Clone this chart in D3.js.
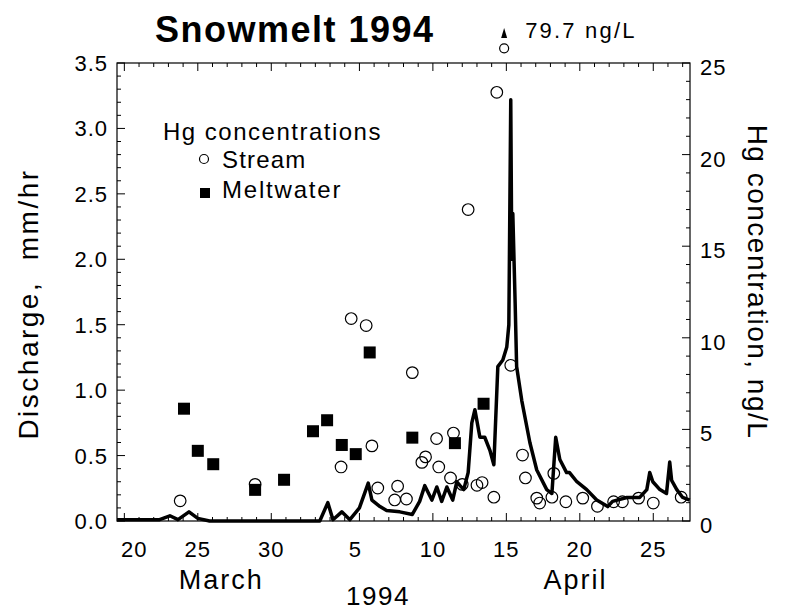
<!DOCTYPE html>
<html>
<head>
<meta charset="utf-8">
<script src="https://cdn.jsdelivr.net/npm/d3@7"></script>
<style>
  html, body { margin: 0; padding: 0; background: #fff; }
  svg { display: block; font-family: "Liberation Sans", Arial, Helvetica, sans-serif; }
</style>
</head>
<body>
<svg id="chart" width="787" height="612"></svg>
<script>
// ---- DATA (x values are day numbers counted from 1 March 1994; April 1 = 32) ----
const dischargeDay = [19.5, 22.4, 23.1, 23.65, 24.4, 25.0, 25.8, 33.3, 33.85, 34.2, 34.8, 35.35, 36.0, 36.6, 36.85, 37.4, 37.85, 38.75, 39.6, 40.1, 40.45, 40.93, 41.27, 41.6, 41.95, 42.35, 42.63, 42.85, 43.1, 43.4, 43.65, 43.86, 44.2, 44.53, 44.88, 45.15, 45.42, 45.76, 46.03, 46.17, 46.3, 46.37, 46.44, 46.6, 46.7, 47.05, 47.6, 48.07, 48.75, 49.1, 49.36, 49.64, 50.1, 50.3, 50.8, 51.47, 52.15, 52.9, 53.23, 54.2, 55.08, 55.56, 55.76, 55.97, 56.45, 56.9, 57.12, 57.25, 57.6, 58.0, 58.48];
const dischargeVal = [0.01, 0.01, 0.04, 0.01, 0.07, 0.02, 0.0, 0.0, 0.14, 0.01, 0.07, 0.01, 0.1, 0.29, 0.16, 0.11, 0.08, 0.07, 0.05, 0.15, 0.27, 0.16, 0.26, 0.15, 0.26, 0.16, 0.3, 0.27, 0.24, 0.37, 0.75, 0.85, 0.64, 0.64, 0.54, 0.43, 1.18, 1.23, 1.33, 1.5, 3.22, 2.0, 2.35, 1.66, 1.18, 0.92, 0.6, 0.39, 0.24, 0.21, 0.64, 0.47, 0.37, 0.37, 0.3, 0.24, 0.16, 0.11, 0.15, 0.18, 0.18, 0.24, 0.37, 0.3, 0.24, 0.21, 0.45, 0.31, 0.24, 0.18, 0.16];

const streamDay = [23.8, 28.9, 34.75, 35.44, 36.46, 36.85, 37.25, 38.4, 38.6, 39.2, 39.6, 40.25, 40.5, 41.25, 41.4, 42.2, 42.4, 43.0, 43.4, 44.0, 44.35, 45.15, 45.35, 45.85, 46.3, 47.1, 47.3, 48.07, 48.27, 49.1, 49.23, 50.05, 51.2, 52.2, 53.3, 53.9, 55.0, 56.0, 57.9];
const streamHg  = [1.1, 2.0, 2.95, 11.05, 10.67, 4.1, 1.8, 1.15, 1.9, 1.2, 8.1, 3.2, 3.5, 4.5, 2.95, 2.35, 4.8, 2.0, 17.0, 1.95, 2.1, 1.3, 23.4, 79.7, 8.5, 3.6, 2.35, 1.25, 0.98, 1.3, 2.6, 1.05, 1.25, 0.8, 1.05, 1.05, 1.25, 0.98, 1.3];

const meltDay = [24.06, 25.0, 26.05, 28.9, 30.87, 32.84, 33.8, 34.8, 35.75, 36.7, 39.6, 42.5, 44.45];
const meltHg  = [6.13, 3.83, 3.1, 1.7, 2.25, 4.9, 5.5, 4.15, 3.65, 9.2, 4.55, 4.25, 6.4];

const xTickDays   = [20, 25, 30, 36, 41, 46, 51, 56];       // 20,25,30 March; 5,10,15,20,25 April
const xTickLabels = ["20", "25", "30", "5", "10", "15", "20", "25"];
const leftTicks   = [0, 0.5, 1, 1.5, 2, 2.5, 3, 3.5];
const leftLabels  = ["0.0", "0.5", "1.0", "1.5", "2.0", "2.5", "3.0", "3.5"];
const rightTicks  = [0, 5, 10, 15, 20, 25];
const rightLabels = ["0", "5", "10", "15", "20", "25"];
const monthLabels = ["March", "April"];
const monthCenters = [26.6, 50.7];

const titleText = "Snowmelt 1994";
const offscaleNote = "79.7 ng/L";
const offscaleShownAt = 25.8;   // off-scale values drawn just above the frame
const legendTitle = "Hg concentrations";
const legendItems = ["Stream", "Meltwater"];
const leftTitle = "Discharge,  mm/hr";
const rightTitle = "Hg concentration, ng/L";
const yearLabel = "1994";

// ---- LAYOUT ----
const svg = d3.select("#chart");
const L = 117, R = 690, T = 63, B = 521;

const x  = d3.scaleLinear().domain([19.5, 58.5]).range([L, R]);
const yL = d3.scaleLinear().domain([0, 3.5]).range([B, T]);
const yR = d3.scaleLinear().domain([0, 25]).range([B, T]);

const g = svg.append("g");

// frame
g.append("rect").attr("x", L).attr("y", T).attr("width", R - L).attr("height", B - T)
  .attr("fill", "none").attr("stroke", "#000").attr("stroke-width", 1.2);

// x ticks (bottom & top), every day, major every 5
const dayTicks = d3.range(20, 59);
const isMajorX = d => xTickDays.includes(d);
g.selectAll(".xtb").data(dayTicks).join("line")
  .attr("x1", d => x(d)).attr("x2", d => x(d))
  .attr("y1", B).attr("y2", d => B - (isMajorX(d) ? 8 : 4))
  .attr("stroke", "#000").attr("stroke-width", 1);
g.selectAll(".xtt").data(dayTicks).join("line")
  .attr("x1", d => x(d)).attr("x2", d => x(d))
  .attr("y1", T).attr("y2", d => T + (isMajorX(d) ? 8 : 4))
  .attr("stroke", "#000").attr("stroke-width", 1);

// left ticks
const lMinor = d3.range(0, 3.501, 0.1);
g.selectAll(".ylt").data(lMinor).join("line")
  .attr("x1", L).attr("x2", (d, i) => L + (i % 5 === 0 ? 8 : 4))
  .attr("y1", d => yL(d)).attr("y2", d => yL(d))
  .attr("stroke", "#000").attr("stroke-width", 1);
// right ticks
const rMinor = d3.range(0, 25.01, 1);
g.selectAll(".yrt").data(rMinor).join("line")
  .attr("x1", R).attr("x2", (d, i) => R - (i % 5 === 0 ? 8 : 4))
  .attr("y1", d => yR(d)).attr("y2", d => yR(d))
  .attr("stroke", "#000").attr("stroke-width", 1);

// tick labels
g.selectAll(".xl").data(xTickDays).join("text")
  .attr("x", (d, i) => x(d) + (i === 0 ? 10 : (i === 3 ? -4 : 0))).attr("y", 557)
  .attr("text-anchor", "middle").attr("font-size", 22).attr("letter-spacing", 1)
  .text((d, i) => xTickLabels[i]);
g.selectAll(".yll").data(leftTicks).join("text")
  .attr("x", 108).attr("y", d => yL(d) + 8)
  .attr("text-anchor", "end").attr("font-size", 22).attr("letter-spacing", 1)
  .text((d, i) => leftLabels[i]);
g.selectAll(".yrl").data(rightTicks).join("text")
  .attr("x", 700).attr("y", d => yR(d) + 12)
  .attr("text-anchor", "start").attr("font-size", 22).attr("letter-spacing", 1)
  .text((d, i) => rightLabels[i]);

// month & year labels
g.selectAll(".ml").data(monthCenters).join("text")
  .attr("x", d => x(d)).attr("y", 589)
  .attr("text-anchor", "middle").attr("font-size", 27).attr("letter-spacing", 2)
  .text((d, i) => monthLabels[i]);
g.append("text").attr("x", 378).attr("y", 605).attr("text-anchor", "middle")
  .attr("font-size", 26).attr("letter-spacing", 1.5).text(yearLabel);

// axis titles
g.append("text").attr("transform", "translate(38,304) rotate(-90)")
  .attr("text-anchor", "middle").attr("font-size", 28).attr("letter-spacing", 2.5)
  .style("white-space", "pre").text(leftTitle);
g.append("text").attr("transform", "translate(748,282) rotate(90)")
  .attr("text-anchor", "middle").attr("font-size", 28).attr("letter-spacing", 1.5)
  .text(rightTitle);

// title
g.append("text").attr("x", 155).attr("y", 42).attr("font-size", 36)
  .attr("font-weight", "bold").attr("letter-spacing", 1.5).text(titleText);

// discharge line
const lineData = dischargeDay.map((d, i) => [d, dischargeVal[i]]);
g.append("path").datum(lineData)
  .attr("d", d3.line().x(d => x(d[0])).y(d => yL(d[1])))
  .attr("fill", "none").attr("stroke", "#000").attr("stroke-width", 3.5)
  .attr("stroke-linejoin", "round");

// meltwater squares
const sq = 12;
g.selectAll(".melt").data(meltDay).join("rect")
  .attr("x", d => x(d) - sq / 2).attr("y", (d, i) => yR(meltHg[i]) - sq / 2)
  .attr("width", sq).attr("height", sq).attr("fill", "#000");

// stream circles
const hgMax = yR.domain()[1];
g.selectAll(".stream").data(streamDay).join("circle")
  .attr("cx", d => x(d))
  .attr("cy", (d, i) => yR(streamHg[i] > hgMax ? offscaleShownAt : streamHg[i]))
  .attr("r", (d, i) => streamHg[i] > hgMax ? 4.5 : 5.8)
  .attr("fill", "none").attr("stroke", "#000").attr("stroke-width", 1.2);

// off-scale annotation
streamDay.forEach((d, i) => {
  if (streamHg[i] > hgMax) {
    const cx = x(d);
    g.append("path").attr("d", `M${cx - 3},${38} L${cx},${28} L${cx + 3},${38} Z`).attr("fill", "#000");
    g.append("text").attr("x", cx + 21).attr("y", 38).attr("font-size", 22)
      .attr("letter-spacing", 2.2).text(offscaleNote);
  }
});

// legend
g.append("text").attr("x", 163).attr("y", 140).attr("font-size", 24)
  .attr("letter-spacing", 1.5).text(legendTitle);
g.append("circle").attr("cx", 204).attr("cy", 159).attr("r", 4.5)
  .attr("fill", "none").attr("stroke", "#000").attr("stroke-width", 1.2);
g.append("text").attr("x", 222).attr("y", 168).attr("font-size", 24)
  .attr("letter-spacing", 1.2).text(legendItems[0]);
g.append("rect").attr("x", 200).attr("y", 188).attr("width", 10).attr("height", 10).attr("fill", "#000");
g.append("text").attr("x", 222).attr("y", 198).attr("font-size", 24)
  .attr("letter-spacing", 1.8).text(legendItems[1]);
</script>
</body>
</html>
